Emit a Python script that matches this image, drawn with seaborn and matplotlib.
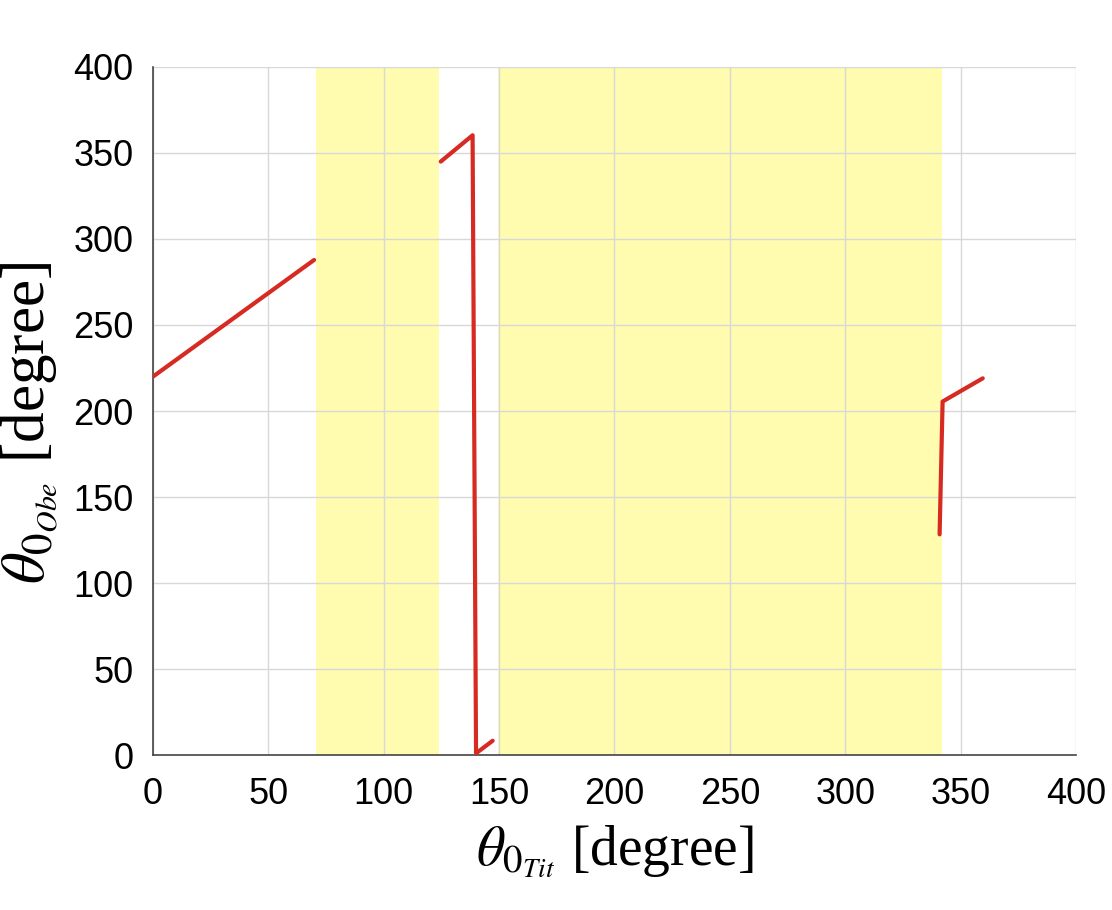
import matplotlib
matplotlib.use("Agg")
import matplotlib.pyplot as plt
import numpy as np
import pandas as pd
import seaborn as sns

# line segments (theta_0 Tit -> theta_0 Obe)
seg_id = [1, 1, 2, 2, 2, 2, 3, 3, 3]
theta_tit = [0.0, 69.8, 124.7, 138.5, 140.0, 147.2, 340.9, 342.2, 359.6]
theta_obe = [220.0, 287.8, 345.0, 360.3, 1.0, 8.3, 128.3, 205.5, 219.0]

# shaded (yellow) intervals on the x axis
span_start = [70.6, 149.7]
span_end = [124.1, 341.9]

x_ticks = [0, 50, 100, 150, 200, 250, 300, 350, 400]
y_ticks = [0, 50, 100, 150, 200, 250, 300, 350, 400]

df = pd.DataFrame({"seg": seg_id, "tit": theta_tit, "obe": theta_obe})

sns.set_style("white")
plt.rcParams["font.family"] = ["Liberation Sans", "DejaVu Sans"]
plt.rcParams["mathtext.fontset"] = "stix"

fig = plt.figure(figsize=(11.12, 9.10), dpi=100)
ax = fig.add_axes([0.1376, 0.1703, 0.8300, 0.7561])

for s0, s1 in zip(span_start, span_end):
    ax.axvspan(s0, s1, color="#fffcaf", lw=0, zorder=0)

sns.lineplot(data=df, x="tit", y="obe", units="seg", estimator=None, sort=False,
             color="#d62a22", linewidth=3.0, ax=ax, zorder=3)

ax.set_xlim(0, 400)
ax.set_ylim(0, 400)
ax.set_xticks(x_ticks)
ax.set_yticks(y_ticks)
ax.set_axisbelow(True)
ax.grid(True, color="#d8d8d8", linewidth=1.0)

for side in ["top", "right"]:
    ax.spines[side].set_visible(False)
for side in ["left", "bottom"]:
    ax.spines[side].set_color("#444444")
    ax.spines[side].set_linewidth(1.2)

ax.tick_params(axis="both", direction="in", length=7, width=1, color="#444444",
               labelsize=26, labelcolor="black")
ax.tick_params(axis="x", pad=16)
ax.tick_params(axis="y", pad=14)

ax.set_xlabel(r"$\theta_{0_{Tit}}$ [degree]", family=["Liberation Serif", "DejaVu Serif"],
              size=40, color="black", labelpad=8)
ax.set_ylabel(r"$\theta_{0_{Obe}}$ [degree]", family=["Liberation Serif", "DejaVu Serif"],
              size=44, color="black")
ax.yaxis.set_label_coords(-0.10, 0.483)

fig.savefig("out.png", dpi=100)
